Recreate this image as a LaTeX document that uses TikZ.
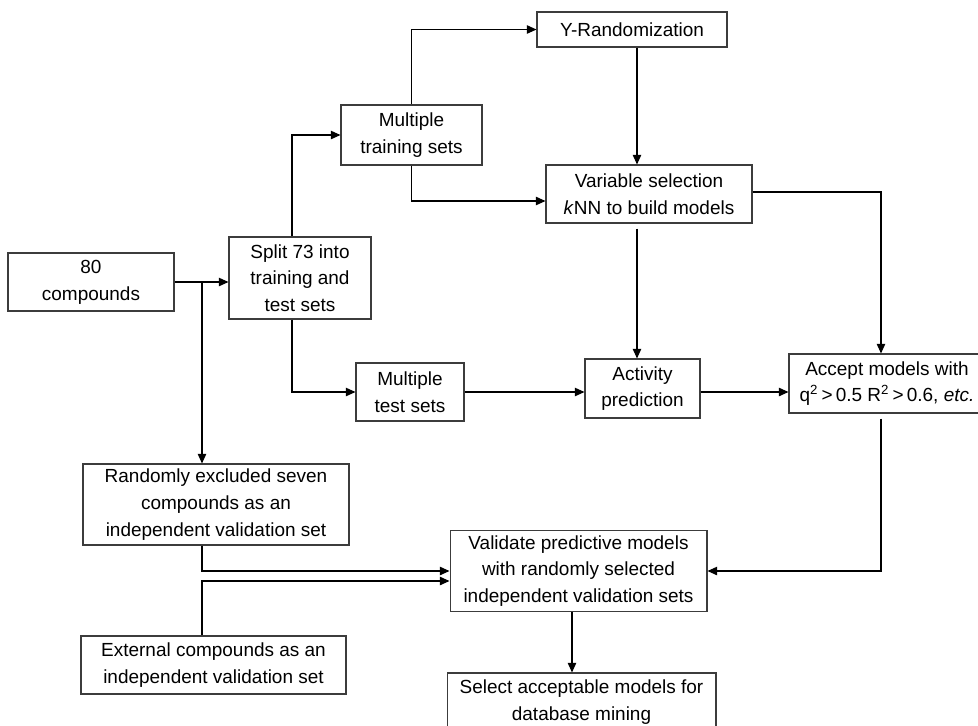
\documentclass[tikz,border=0pt]{standalone}
\usepackage{fontspec}
\setmainfont{Liberation Sans}
\usepackage{tikz}
\usetikzlibrary{arrows.meta, positioning, calc}
\definecolor{boxline}{RGB}{60, 60, 60}
\tikzset{
    box/.style = {rectangle, draw=boxline, fill=white, line width=0.6pt, align=center, inner sep=2pt, font=\fontsize{10.8}{15.2}\selectfont},
    arrow/.style = {line width=0.7pt, -{Triangle[length=5.5pt, width=4.8pt]}},
    line/.style = {line width=0.7pt, -}
}

\begin{document}
\begin{tikzpicture}[x=0.02cm, y=-0.02cm]
\useasboundingbox (0,0) rectangle (978,725);

\node (cmpd) [box, minimum width=3.32cm, minimum height=1.16cm] at (91,282) {80\\compounds};
\node (split) [box, minimum width=2.84cm, minimum height=1.64cm] at (300,278) {Split 73 into\\training and\\test sets};
\node (train) [box, minimum width=2.82cm, minimum height=1.2cm] at (411.5,135) {Multiple\\training sets};
\node (yrand) [box, minimum width=3.8cm, minimum height=0.7cm] at (632,29.5) {Y-Randomization};
\node (varsel) [box, minimum width=4.12cm, minimum height=1.16cm] at (649,194) {Variable selection\\\textit{k}NN to build models};
\node (tests) [box, minimum width=2.16cm, minimum height=1.16cm] at (410,392) {Multiple\\test sets};
\node (activ) [box, minimum width=2.3cm, minimum height=1.18cm] at (642.5,388.5) {Activity\\prediction};
\node (accept) [box, minimum width=3.92cm, minimum height=1.18cm] at (887,383.5) {Accept models with\\q\textsuperscript{2}\,>\,0.5 R\textsuperscript{2}\,>\,0.6, \textit{etc.}};
\node (excl) [box, minimum width=5.32cm, minimum height=1.62cm] at (216,504.5) {Randomly excluded seven\\compounds as an\\independent validation set};
\node (valid) [box, minimum width=5.14cm, minimum height=1.62cm] at (578.5,571) {Validate predictive models\\with randomly selected\\independent validation sets};
\node (extern) [box, minimum width=5.3cm, minimum height=1.16cm] at (213.5,665) {External compounds as an\\independent validation set};
\node (select) [box, minimum width=5.38cm, minimum height=1.16cm] at (581.5,702) {Select acceptable models for\\database mining};

\coordinate (fork) at (202,282);

\draw [arrow] (cmpd.east) -- (cmpd.east -| split.west);
\draw [arrow] (fork) -- (fork |- excl.north);
\draw [arrow] ([xshift=-0.16cm]split.north) |- (train.west);
\draw [arrow] ([xshift=-0.16cm]split.south) |- (tests.west);
\draw [arrow] (train.north) |- (yrand.west);
\draw [arrow] (train.south) |- ([yshift=-0.14cm]varsel.west);
\draw [arrow] ([xshift=0.1cm]yrand.south) -- ([xshift=0.1cm]yrand.south |- varsel.north);
\draw [arrow] ([xshift=-0.24cm,yshift=-0.1cm]varsel.south) -- ([xshift=-0.24cm]varsel.south |- activ.north);
\draw [arrow] ([yshift=0.04cm]varsel.east) -| ([xshift=-0.12cm]accept.north);
\draw [arrow] (tests.east) -- (tests.east -| activ.west);
\draw [arrow] (activ.east |- tests) -- (tests -| accept.west);
\draw [arrow] ([xshift=-0.12cm,yshift=-0.1cm]accept.south) |- (valid.east);
\draw [arrow] (excl.south -| fork) |- (valid.west);
\draw [arrow] (extern.north -| fork) |- ([yshift=-0.2cm]valid.west);
\draw [arrow] ([xshift=-0.13cm]valid.south) -- ([xshift=-0.13cm]valid.south |- select.north);
\end{tikzpicture}
\end{document}
